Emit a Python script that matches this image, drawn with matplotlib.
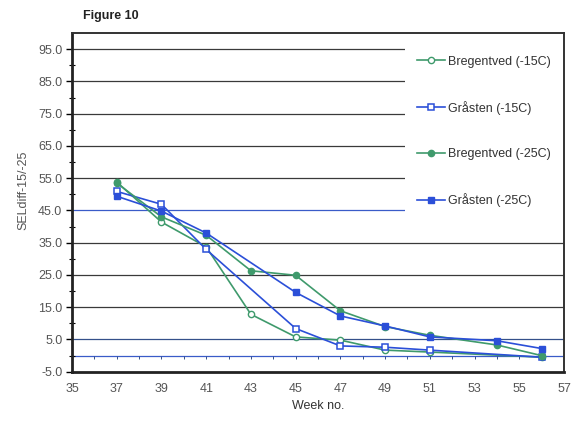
import matplotlib
matplotlib.use("Agg")
import matplotlib.pyplot as plt
from matplotlib.patches import Rectangle
import numpy as np

# weekly SEL differences, -15C and -25C freezing tests
weeks_b15 = [37, 39, 41, 43, 45, 47, 49, 51, 56]
sel_b15 = [53.8, 41.4, 33.7, 12.8, 5.8, 4.8, 1.7, 1.1, -0.5]

weeks_g15 = [37, 39, 41, 45, 47, 49, 51, 56]
sel_g15 = [50.9, 46.9, 32.9, 8.4, 3.0, 2.6, 1.7, -0.5]

weeks_b25 = [37, 39, 41, 43, 45, 47, 49, 51, 54, 56]
sel_b25 = [53.5, 43.0, 37.3, 26.3, 24.9, 13.9, 9.0, 6.3, 3.3, 0.0]

weeks_g25 = [37, 39, 41, 45, 47, 49, 51, 54, 56]
sel_g25 = [49.4, 44.8, 38.0, 19.6, 12.3, 9.2, 5.8, 4.6, 2.2]

y_ticks = [-5, 5, 15, 25, 35, 45, 55, 65, 75, 85, 95]
x_ticks = [35, 37, 39, 41, 43, 45, 47, 49, 51, 53, 55, 57]

GREEN = "#3f9a6c"
BLUE = "#2b4fd8"
TICK_GRAY = "#555555"

plt.rcParams["font.family"] = ["Liberation Sans", "DejaVu Sans"]

fig = plt.figure(figsize=(5.77, 4.21), dpi=100)
ax = fig.add_axes([0.1248, 0.117, 0.8527, 0.8046])

ax.set_xlim(35, 57)
ax.set_ylim(-5, 100)

# horizontal grid, a few lines come out bluish in the original print
grid_colors = {45: "#3a5bc8", 5: "#34508a"}
for v in y_ticks[1:]:
    ax.axhline(v, color=grid_colors.get(v, "#3a3a3a"), lw=0.9, zorder=1)
ax.axhline(0, color="#3a5bc8", lw=0.9, zorder=1)
ax.vlines(np.arange(36, 57), -0.9, 0, color="#34508a", lw=0.7, zorder=1)

# blank panel behind the legend, hides the grid on the right
ax.add_patch(Rectangle((0.677, 0.424), 0.33, 0.58, transform=ax.transAxes,
                       facecolor="white", edgecolor="none", zorder=2))

ax.plot(weeks_b15, sel_b15, color=GREEN, lw=1.2, marker="o", ms=4.5,
        mfc="white", mec=GREEN, mew=1.0, label="Bregentved (-15C)", zorder=3)
ax.plot(weeks_g15, sel_g15, color=BLUE, lw=1.2, marker="s", ms=5,
        mfc="white", mec=BLUE, mew=1.1, label="Gr\u00e5sten (-15C)", zorder=3)
ax.plot(weeks_b25, sel_b25, color=GREEN, lw=1.2, marker="o", ms=4.5,
        mfc=GREEN, mec=GREEN, label="Bregentved (-25C)", zorder=3)
ax.plot(weeks_g25, sel_g25, color=BLUE, lw=1.2, marker="s", ms=5,
        mfc=BLUE, mec=BLUE, label="Gr\u00e5sten (-25C)", zorder=3)

ax.set_yticks(y_ticks)
ax.set_yticklabels([f"{v:.1f}" for v in y_ticks])
ax.set_yticks(np.arange(0, 100, 10), minor=True)
ax.set_xticks(x_ticks)
ax.tick_params(axis="y", which="major", direction="out", length=4, width=1,
               labelsize=9, labelcolor=TICK_GRAY, pad=3)
ax.tick_params(axis="y", which="minor", direction="inout", length=4, width=0.8)
ax.tick_params(axis="x", length=0, labelsize=9, labelcolor=TICK_GRAY, pad=8)

for side in ["left", "bottom"]:
    ax.spines[side].set_linewidth(2.0)
    ax.spines[side].set_color("#222222")
for side in ["top", "right"]:
    ax.spines[side].set_linewidth(1.4)
    ax.spines[side].set_color("#333333")
for sp in ax.spines.values():
    sp.set_zorder(4)

ax.set_xlabel("Week no.", fontsize=9, color="#333333", labelpad=4)
ax.set_ylabel("SELdiff-15/-25", fontsize=9, color=TICK_GRAY)
ax.yaxis.set_label_coords(-0.086, 0.535)

leg = ax.legend(loc="upper left", bbox_to_anchor=(0.694, 0.944), frameon=False,
                fontsize=9, labelspacing=2.65, handlelength=2.2,
                handletextpad=0.25, borderpad=0.3, borderaxespad=0)
leg.set_zorder(5)
for t in leg.get_texts():
    t.set_color("#333333")

fig.text(0.143, 0.962, "Figure 10", fontsize=9, fontweight="bold",
         color="#222222", va="center")

fig.savefig("out.png", dpi=100)
